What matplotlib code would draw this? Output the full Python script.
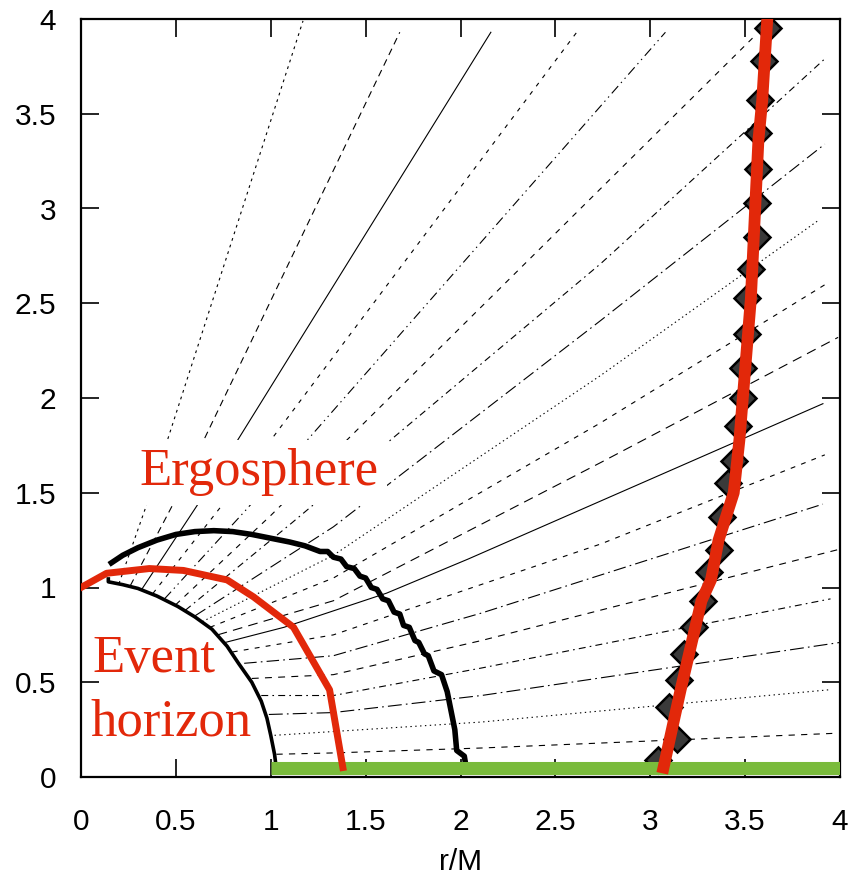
import matplotlib.pyplot as plt

plt.rcParams['font.family'] = ['Liberation Sans', 'DejaVu Sans']
plt.rcParams['lines.scale_dashes'] = False

# field lines leaving through the top edge
top_x = [
    [0.20, 0.34, 1.17],
    [0.26, 0.48, 1.68],
    [0.32, 0.61, 2.16],
    [0.38, 0.74, 2.62],
    [0.44, 0.87, 3.08],
    [0.50, 1.00, 3.56],
]
top_y = [
    [1.02, 1.42, 3.99],
    [1.01, 1.43, 3.93],
    [0.99, 1.43, 3.93],
    [0.97, 1.43, 3.94],
    [0.94, 1.41, 3.93],
    [0.91, 1.38, 3.92],
]

# field lines leaving through the right edge
side_x = [
    [0.55, 1.11, 2.74, 3.92],
    [0.60, 1.33, 2.74, 3.92],
    [0.64, 1.33, 2.74, 3.89],
    [0.68, 1.33, 2.74, 3.94],
    [0.72, 1.33, 2.74, 3.99],
    [0.76, 1.07, 1.61, 2.04, 3.91],
    [0.80, 1.33, 2.21, 2.74, 3.92],
    [0.86, 1.33, 2.11, 3.91],
    [0.90, 1.33, 2.11, 3.99],
    [0.95, 1.33, 2.11, 3.95],
    [0.99, 1.33, 2.11, 4.00],
    [1.02, 1.33, 2.11, 3.94],
    [1.03, 1.33, 2.11, 3.96],
]
side_y = [
    [0.88, 1.34, 2.71, 3.79],
    [0.85, 1.32, 2.41, 3.34],
    [0.82, 1.17, 2.12, 2.94],
    [0.79, 1.05, 1.87, 2.61],
    [0.75, 0.93, 1.66, 2.32],
    [0.71, 0.79, 0.97, 1.15, 1.97],
    [0.66, 0.75, 1.05, 1.23, 1.70],
    [0.60, 0.64, 0.865, 1.44],
    [0.52, 0.54, 0.72, 1.20],
    [0.43, 0.43, 0.575, 0.94],
    [0.33, 0.34, 0.43, 0.71],
    [0.22, 0.24, 0.29, 0.46],
    [0.12, 0.127, 0.153, 0.23],
]

# horizon (black arc)
horizon_x = [0.144, 0.144, 0.22, 0.30, 0.40, 0.51, 0.60, 0.69, 0.77, 0.83, 0.90,
             0.95, 0.98, 1.00, 1.02, 1.03]
horizon_y = [1.045, 1.03, 1.015, 0.995, 0.955, 0.90, 0.845, 0.78, 0.69, 0.60, 0.50,
             0.40, 0.31, 0.22, 0.12, 0.04]

# ergosphere (thick black, jagged)
ergo_x = [0.16, 0.22, 0.30, 0.40, 0.50, 0.60, 0.70, 0.80, 0.90, 1.00, 1.10, 1.18,
          1.26, 1.30, 1.33, 1.37, 1.40, 1.44, 1.47, 1.50, 1.53, 1.56, 1.59, 1.62,
          1.65, 1.68, 1.70, 1.73, 1.76, 1.78, 1.81, 1.83, 1.86, 1.90, 1.93, 1.95,
          1.97, 1.98, 2.02, 2.03]
ergo_y = [1.13, 1.17, 1.21, 1.25, 1.28, 1.295, 1.30, 1.295, 1.28, 1.26, 1.24, 1.22,
          1.19, 1.19, 1.16, 1.15, 1.11, 1.10, 1.06, 1.05, 1.00, 0.99, 0.94, 0.93,
          0.87, 0.86, 0.80, 0.79, 0.72, 0.71, 0.65, 0.64, 0.56, 0.54, 0.45, 0.35,
          0.25, 0.14, 0.11, 0.05]

# red curves
red_ergo_x = [0.0, 0.135, 0.36, 0.54, 0.77, 0.91, 1.12, 1.31, 1.38]
red_ergo_y = [1.0, 1.075, 1.10, 1.09, 1.04, 0.95, 0.79, 0.46, 0.05]
red_lc_x = [3.07, 3.16, 3.27, 3.32, 3.36, 3.44, 3.47, 3.53, 3.57, 3.59, 3.62]
red_lc_y = [0.05, 0.46, 0.93, 1.04, 1.25, 1.50, 1.78, 2.52, 3.36, 3.57, 4.05]

# scribbles around the right red curve
zig_x = [3.04, 3.14, 3.10, 3.15, 3.18, 3.23, 3.28, 3.31, 3.36, 3.38, 3.41, 3.44, 3.46,
         3.49, 3.49, 3.51, 3.51, 3.53, 3.56, 3.56, 3.57, 3.57, 3.58, 3.60, 3.62]
zig_y = [0.09, 0.20, 0.37, 0.51, 0.65, 0.79, 0.93, 1.08, 1.20, 1.37, 1.55, 1.67, 1.85,
         2.00, 2.16, 2.34, 2.53, 2.68, 2.85, 3.03, 3.21, 3.40, 3.57, 3.78, 3.95]

# green equatorial band
green_x = [1.0, 4.0]
green_y = [0.045, 0.045]

ticks = [0, 0.5, 1, 1.5, 2, 2.5, 3, 3.5, 4]
tick_labels = ['0', '0.5', '1', '1.5', '2', '2.5', '3', '3.5', '4']

top_dash = [(2, 3), (5, 3.5), None, (3, 4.5), (7, 3, 1, 3, 1, 3), (4, 4.5)]
side_dash = [(5, 3, 1.2, 3), (9, 3, 1.2, 3), (1, 2.2), (3.5, 4.5), (7, 4.5), None,
             (3.5, 4.5), (9, 3, 1.2, 3), (5, 4.5), (5, 3, 1.2, 3), (10, 3, 1.2, 3),
             (1, 2.5), (4.5, 4.5)]

red = '#e2280a'
green = '#7abb3c'

fig = plt.figure(figsize=(8.52, 8.8), dpi=100)
ax = fig.add_axes([81 / 852, 103 / 880, 759 / 852, 758 / 880])

for xs, ys, d in zip(top_x + side_x, top_y + side_y, top_dash + side_dash):
    line, = ax.plot(xs, ys, color='black', lw=0.8)
    if d is not None:
        line.set_dashes(d)

ax.plot(horizon_x, horizon_y, color='black', lw=2.6)
ax.plot(ergo_x, ergo_y, color='black', lw=4)
ax.plot(zig_x, zig_y, linestyle='none', marker='D', ms=13, mfc='#3a3a3a',
        mec='black', mew=1.8)
ax.plot(green_x, green_y, color=green, lw=9.4, solid_capstyle='butt', zorder=4)
ax.plot(red_ergo_x, red_ergo_y, color=red, lw=5, zorder=5)
ax.plot(red_lc_x, red_lc_y, color=red, lw=8.5, zorder=5)

ax.text(0.31, 1.54, 'Ergosphere', color=red, fontsize=38, family='Liberation Serif',
        va='baseline', zorder=6,
        bbox=dict(facecolor='white', edgecolor='none', pad=6))
ax.text(0.058, 0.554, 'Event', color=red, fontsize=38, family='Liberation Serif',
        va='baseline', zorder=6)
ax.text(0.05, 0.22, 'horizon', color=red, fontsize=38, family='Liberation Serif',
        va='baseline', zorder=6)

ax.set_xlim(0, 4)
ax.set_ylim(0, 4)
ax.set_xticks(ticks)
ax.set_xticklabels(tick_labels)
ax.set_yticks(ticks)
ax.set_yticklabels(tick_labels)
ax.tick_params(direction='in', length=13, width=1.2, labelsize=21.5,
               top=True, right=True)
ax.tick_params(axis='x', pad=22)
ax.tick_params(axis='y', pad=18)
for s in ax.spines.values():
    s.set_linewidth(1.6)
ax.set_xlabel('r/M', fontsize=21.5, labelpad=9)

fig.savefig('out.png', dpi=100)
